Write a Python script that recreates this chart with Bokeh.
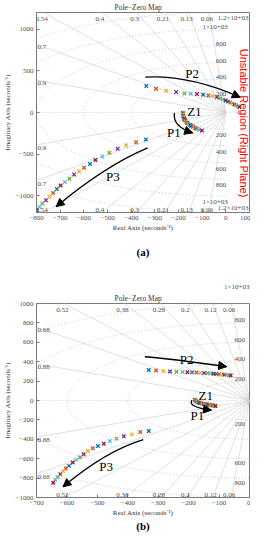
import numpy as np
from math import pi
from bokeh.plotting import figure
from bokeh.models import Label, Arrow, NormalHead, FixedTicker, Range1d, Title
from bokeh.layouts import column
from bokeh.embed import file_html
from bokeh.resources import INLINE

MATLAB = ["#0072BD", "#D95319", "#EDB120", "#7E2F8E", "#77AC30", "#4DBEEE", "#A2142F"]

# ---------------- panel (a) data ----------------
a_p1_re = [-182, -181, -181, -180, -179, -178, -176, -174, -171, -168, -164,
           -160, -155, -150, -145, -139, -133, -127, -120, -112, -101]
a_p1_im = [-4, -16, -28, -40, -52, -64, -76, -88, -100, -112, -123,
           -133, -143, -152, -161, -170, -179, -188, -197, -206, -217]
a_p2_re = [-336, -295, -252, -210, -175, -148, -122, -96, -74, -55, -38,
           -24, -12, -1, 9, 19, 28, 36, 44, 51, 57]
a_p2_im = [317, 285, 261, 245, 229, 225, 221, 213, 205, 197, 184,
           170, 157, 144, 131, 119, 107, 96, 86, 76, 67]
a_p3_re = [-338, -379, -421, -457, -492, -522, -551, -574, -599, -620, -641,
           -661, -680, -698, -714, -730, -745, -760, -775, -788, -800]
a_p3_im = [-325, -358, -394, -434, -482, -527, -570, -618, -663, -707, -743,
           -795, -835, -876, -919, -967, -1012, -1052, -1093, -1133, -1173]
a_zeta = [0.06, 0.13, 0.21, 0.3, 0.4, 0.54, 0.7, 0.9]
a_wn = [200, 400, 600, 800, 1000, 1200]
a_wn_text = ["200", "400", "600", "800", "1×10+03", "1.2×10+03"]
a_wn_lower = [200, 400, 600, 800, 1000, 1200]
a_xticks = [-800, -700, -600, -500, -400, -300, -200, -100, 0, 100]
a_yticks = [-1000, -500, 0, 500, 1000]

# ---------------- panel (b) data ----------------
b_p1_re = [-180, -179, -177, -175, -172, -169, -166, -162, -158, -154, -150,
           -146, -142, -138, -134, -130, -126, -122, -118, -115, -112]
b_p1_im = [8, 2, -4, -9, -14, -19, -23, -27, -30, -33, -36,
           -38, -40, -42, -44, -46, -48, -50, -53, -55, -57]
b_p2_re = [-331, -307, -283, -261, -240, -220, -204, -189, -174, -161, -149,
           -138, -128, -118, -109, -100, -91, -83, -75, -68, -62]
b_p2_im = [315, 309, 303, 299, 296, 294, 292, 290, 288, 285, 283,
           281, 278, 276, 274, 271, 268, 266, 264, 261, 258]
b_p3_re = [-331, -359, -387, -413, -437, -459, -479, -498, -515, -531, -545,
           -557, -570, -581, -593, -604, -613, -622, -630, -638, -645]
b_p3_im = [-315, -325, -349, -369, -393, -418, -445, -469, -492, -520, -554,
           -585, -612, -639, -674, -701, -728, -759, -790, -817, -848]
b_zeta = [0.06, 0.12, 0.2, 0.28, 0.38, 0.52, 0.68, 0.88]
b_wn = [200, 400, 600, 800, 1000]
b_wn_text = ["200", "400", "600", "800", "1×10+03"]
b_wn_lower = [200, 600, 800]
b_xticks = [-700, -600, -500, -400, -300, -200, -100, 0]
b_yticks = [-1000, -800, -600, -400, -200, 0, 200, 400, 600, 800, 1000]

SERIF = "Liberation Serif"
SANS = "Liberation Sans"
TXT = "#4d4d4d"


def lab(p, x, y, text, size, color=TXT, font=SERIF, align="center",
        baseline="middle", xo=0, yo=0, angle=0, style="normal"):
    p.add_layout(Label(x=x, y=y, text=text, text_font=font, text_font_size=size,
                       text_color=color, text_align=align, text_baseline=baseline,
                       x_offset=xo, y_offset=yo, angle=angle, text_font_style=style))


def style_title(t, size, color, align):
    t.align = align
    t.standoff = 1
    t.text_font = SERIF
    t.text_font_size = size
    t.text_font_style = "normal"
    t.text_color = color


def panel(xr, yr, h, top, bottom, zetas, wns, wn_texts, wn_lower, wn_x,
          up_off, lo_off, xticks, yticks, poles, arrows, names, caption, cap_standoff,
          corner_text=None):
    p = figure(width=250, height=h, x_range=Range1d(*xr), y_range=Range1d(*yr),
               output_backend="svg", toolbar_location=None,
               min_border_left=26, min_border_right=1,
               min_border_top=top, min_border_bottom=bottom)
    main = Title(text="Pole−Zero Map", offset=78)
    style_title(main, "7.5px", "#333333", "left")
    if corner_text is None:
        p.title = main
    else:
        p.add_layout(main, "above")
        p.title.text = corner_text
        style_title(p.title, "7px", TXT, "right")
    p.xgrid.grid_line_color = None
    p.ygrid.grid_line_color = None
    p.outline_line_color = "#7a7a7a"
    p.background_fill_color = "white"
    p.border_fill_color = "white"
    for ax in (p.xaxis[0], p.yaxis[0]):
        ax.axis_line_color = "#7a7a7a"
        ax.major_tick_line_color = "#7a7a7a"
        ax.major_tick_in = 3
        ax.major_tick_out = 0
        ax.minor_tick_line_color = None
        ax.major_label_text_font = SERIF
        ax.major_label_text_font_size = "7px"
        ax.major_label_text_color = TXT
        ax.major_label_standoff = 3
        ax.axis_label_text_font = SERIF
        ax.axis_label_text_font_size = "7px"
        ax.axis_label_text_font_style = "normal"
        ax.axis_label_text_color = "#333333"
    p.xaxis.ticker = FixedTicker(ticks=xticks)
    p.yaxis.ticker = FixedTicker(ticks=yticks)
    p.xaxis.axis_label = "Real Axis (seconds⁻¹)"
    p.xaxis.axis_label_standoff = 1
    p.yaxis.axis_label = "Imaginary Axis (seconds⁻¹)"
    p.yaxis.axis_label_standoff = 1

    xmin, xmax = xr
    ymin, ymax = yr
    R = 4000
    # damping rays
    rx, ry = [], []
    for z in zetas:
        s = np.sqrt(1 - z * z)
        for sg in (1, -1):
            rx.append([0, -z * R])
            ry.append([0, sg * s * R])
    p.multi_line(rx, ry, line_color="#d2d2d2", line_width=0.7)
    p.line([xmin, xmax], [0, 0], line_color="#c4c4c4", line_width=0.8, line_dash="1 2")
    # natural frequency arcs
    th = np.linspace(pi / 2, 3 * pi / 2, 240)
    ax_, ay_ = [], []
    for w in wns:
        ax_.append(list(w * np.cos(th)))
        ay_.append(list(w * np.sin(th)))
    p.multi_line(ax_, ay_, line_color="#c0c0c0", line_width=0.8, line_dash="1 2")

    # damping labels
    for z in zetas:
        t = np.sqrt(1 - z * z) / z
        txt = f"{z:g}"
        xh = -ymax / t
        if xh >= xmin:
            lab(p, xh, ymax, txt, "7px", baseline="top", xo=-2, yo=-4)
            lab(p, xh, ymin, txt, "7px", baseline="bottom", xo=-2, yo=1)
        else:
            yh = t * abs(xmin)
            lab(p, xmin, yh, txt, "7px", align="left", xo=1, yo=-3)
            lab(p, xmin, -yh, txt, "7px", align="left", xo=1, yo=-3)
    # frequency labels (those on the frame edge are tucked into the corner)
    for w, txt in zip(wns, wn_texts):
        xo = -6 if len(txt) > 4 else 0
        if w < ymax:
            lab(p, wn_x, w, txt, "7px", xo=xo, yo=up_off)
        elif w == ymax and xmax > 0:
            lab(p, xmax, ymax, txt, "7px", align="right", baseline="top", xo=-1, yo=-1)
        if w in wn_lower:
            if w < ymax:
                lab(p, wn_x, -w, txt, "7px", xo=xo, yo=lo_off)
            else:
                lab(p, xmax, ymin, txt, "7px", align="right", baseline="bottom", xo=-1, yo=1)

    # poles
    for re_, im_ in poles:
        cols = [MATLAB[i % 7] for i in range(len(re_))]
        p.scatter(re_, im_, marker="x", size=5, line_color=cols, line_width=1.3)

    # curved arrows
    for (S, C, E) in arrows:
        p.quadratic(x0=[S[0]], y0=[S[1]], x1=[E[0]], y1=[E[1]], cx=[C[0]], cy=[C[1]],
                    line_color="black", line_width=1.3)
        hs = (E[0] - 0.12 * (E[0] - C[0]), E[1] - 0.12 * (E[1] - C[1]))
        p.add_layout(Arrow(end=NormalHead(size=8, fill_color="black", line_color="black"),
                           x_start=hs[0], y_start=hs[1], x_end=E[0], y_end=E[1],
                           line_width=1.3, line_color="black"))
    for (x, y, txt) in names:
        lab(p, x, y, txt, "13px", color="black")

    p.add_layout(Title(text=caption, align="center", offset=-5, standoff=cap_standoff,
                       vertical_align="top",
                       text_font=SERIF, text_font_size="11px", text_font_style="bold",
                       text_color="black"), "below")
    return p


pa = panel((-800, 100), (-1200, 1200), 271, 8, 59, a_zeta, a_wn, a_wn_text, a_wn_lower,
           -20, 2, -6, a_xticks, a_yticks,
           [(a_p1_re, a_p1_im), (a_p2_re, a_p2_im), (a_p3_re, a_p3_im)],
           [((-340, 425), (-150, 451), (61, 181)),
            ((-217, -4), (-227, -165), (-140, -245)),
            ((-330, -425), (-508, -636), (-717, -1130))],
           [(-142, 474, "P2"), (-133, 16, "Z1"), (-220, -238, "P1"), (-477, -768, "P3")],
           "(a)", 22)
pa.add_layout(Label(x=77, y=-127, text="Unstable Region (Right Plane)", text_color="#ff0000",
                    text_font=SANS, text_font_size="11px", text_align="center",
                    text_baseline="middle", angle=-pi / 2))

pb = panel((-700, 0), (-1000, 1000), 263, 32, 37, b_zeta, b_wn, b_wn_text, b_wn_lower,
           -32, 2.5, -4.5, b_xticks, b_yticks,
           [(b_p1_re, b_p1_im), (b_p2_re, b_p2_im), (b_p3_re, b_p3_im)],
           [((-344, 451), (-266, 434), (-75, 349)),
            ((-189, 5), (-205, -65), (-125, -100)),
            ((-349, -403), (-471, -517), (-613, -890))],
           [(-207, 427, "P2"), (-144, 51, "Z1"), (-171, -154, "P1"), (-471, -684, "P3")],
           "(b)", 0, corner_text="1×10+03")

layout = column(pa, pb, spacing=0)
open("out.html", "w").write(file_html(layout, INLINE))
